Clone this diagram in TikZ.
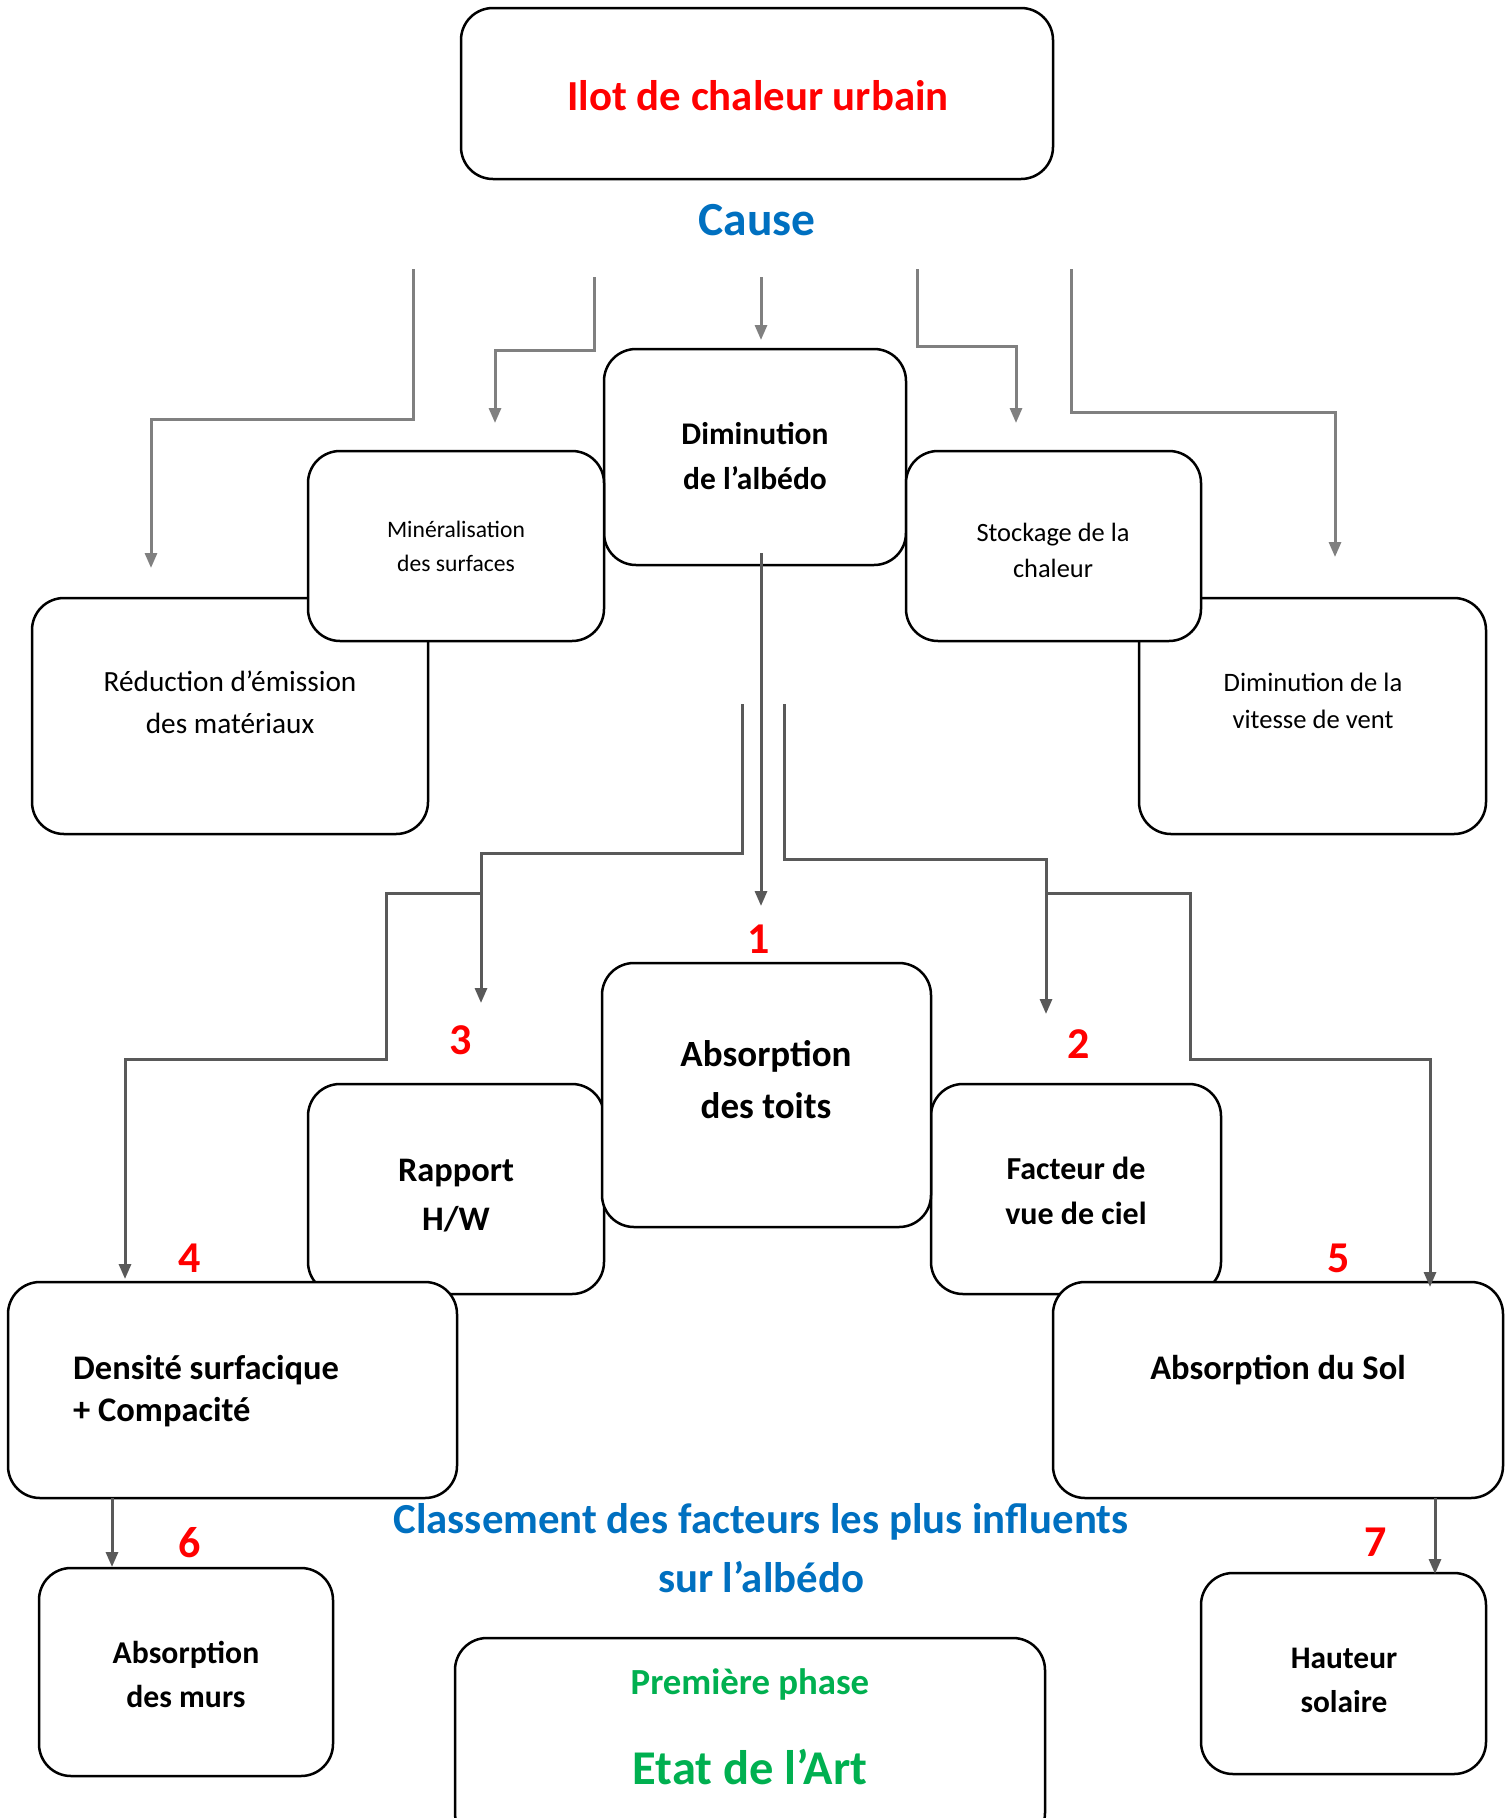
\documentclass[tikz,border=0pt]{standalone}
\usepackage{fontspec}
\setmainfont{Carlito}
\usetikzlibrary{arrows.meta}
\definecolor{cred}{HTML}{FF0000}
\definecolor{cblue}{HTML}{0070C0}
\definecolor{cgreen}{HTML}{00B050}
\definecolor{garrow}{HTML}{808080}
\definecolor{darrow}{HTML}{595959}
\newcommand\fsz[2]{\fontsize{#1pt}{#2pt}\selectfont}
\tikzset{
  box/.style={draw=black, line width=2.5pt, rounded corners=32pt, fill=white, inner sep=0pt, outer sep=0pt},
  lbl/.style={inner sep=0pt, align=center, text=black},
  num/.style={inner sep=0pt, text=cred, font=\bfseries\fsz{44}{50}},
  arr/.style={-{Triangle[length=15pt,width=12pt]}, line width=3pt, draw=garrow},
  darr/.style={-{Triangle[length=15pt,width=12pt]}, line width=3pt, draw=darrow},
}
\begin{document}
\begin{tikzpicture}[x=1pt,y=-1pt]
\clip (0,0) rectangle (1505,1818);
\fill[white] (0,0) rectangle (1505,1818);

% boxes
\node[box, minimum width=592, minimum height=171] (top) at (757,93.5) {};
\node[box, minimum width=302, minimum height=216] (dim) at (755,457) {};
\node[box, minimum width=396, minimum height=236] (red) at (230,716) {};
\node[box, minimum width=296, minimum height=190] (min) at (456,546) {};
\node[box, minimum width=347, minimum height=236] (vit) at (1312.5,716) {};
\node[box, minimum width=295, minimum height=190] (sto) at (1053.5,546) {};
\node[box, minimum width=296, minimum height=210] (rap) at (456,1189) {};
\node[box, minimum width=290, minimum height=210] (fac) at (1076,1189) {};
\node[box, minimum width=329, minimum height=264] (toits) at (766.5,1095) {};
\node[box, minimum width=449, minimum height=216] (den) at (232.5,1390) {};
\node[box, minimum width=450, minimum height=216] (sol) at (1278,1390) {};
\node[box, minimum width=294, minimum height=208] (murs) at (186,1672) {};
\node[box, minimum width=590, minimum height=207] (phase) at (750,1741.5) {};
\node[box, minimum width=285, minimum height=201] (hau) at (1343.5,1673.5) {};

% texts
\node[lbl, text=cred, font=\bfseries\fsz{42.8}{50}] (ttop) at (758,96) {Ilot de chaleur urbain};
\node[lbl, text=cblue, font=\bfseries\fsz{47.5}{55}] (cause) at (757,220) {Cause};
\node[lbl, font=\bfseries\fsz{31.5}{45}] (tdim) at (755,456.5) {Diminution\\de l’albédo};
\node[lbl, font=\fsz{23.6}{34}] (tmin) at (456,546) {Minéralisation\\des surfaces};
\node[lbl, font=\fsz{26.4}{36}] (tsto) at (1053,550) {Stockage de la\\chaleur};
\node[lbl, font=\fsz{29.3}{42}] (tred) at (230,702) {Réduction d’émission\\des matériaux};
\node[lbl, font=\fsz{26.6}{37}] (tvit) at (1313,701) {Diminution de la\\vitesse de vent};
\node[lbl, font=\bfseries\fsz{37}{52}] (ttoits) at (766,1080) {Absorption\\des toits};
\node[lbl, font=\bfseries\fsz{34.4}{49}] (trap) at (456,1195.5) {Rapport\\H/W};
\node[lbl, font=\bfseries\fsz{32}{45}] (tfac) at (1076,1190.5) {Facteur de\\vue de ciel};
\node[lbl, align=left, anchor=west, font=\bfseries\fsz{34.5}{42}] (tden) at (73,1391) {Densité surfacique\\+ Compacité};
\node[lbl, font=\bfseries\fsz{34.5}{42}] (tsol) at (1278,1370) {Absorption du Sol};
\node[lbl, text=cblue, font=\bfseries\fsz{42.8}{59}] (tclass) at (761,1548.5) {Classement des facteurs les plus influents\\sur l’albédo};
\node[lbl, font=\bfseries\fsz{31.7}{44}] (tmurs) at (186,1674) {Absorption\\des murs};
\node[lbl, text=cgreen, font=\bfseries\fsz{36.8}{42}] (tph1) at (750,1684) {Première phase};
\node[lbl, text=cgreen, font=\bfseries\fsz{48.5}{55}] (tph2) at (750,1767) {Etat de l’Art};
\node[lbl, font=\bfseries\fsz{31.4}{44}] (thau) at (1344,1680) {Hauteur\\solaire};

% rank numbers
\node[num] (n1) at (759,939) {1};
\node[num] (n2) at (1079,1044) {2};
\node[num] (n3) at (461,1040) {3};
\node[num] (n4) at (190,1258) {4};
\node[num] (n5) at (1339,1258) {5};
\node[num] (n6) at (190,1543) {6};
\node[num] (n7) at (1376,1542) {7};

% connector end points
\coordinate (a1s) at (413,269);  \coordinate (a1e) at (151,568);
\coordinate (a2s) at (594,277);  \coordinate (a2e) at (495,423);
\coordinate (a3s) at (761,277);  \coordinate (a3e) at (761,340);
\coordinate (a4s) at (917,269);  \coordinate (a4e) at (1016,423);
\coordinate (a5s) at (1071,269); \coordinate (a5e) at (1335,557);
\coordinate (a6s) at (761,553);  \coordinate (a6e) at (761,906);
\coordinate (a7s) at (742,704);  \coordinate (a7e) at (481,1003);
\coordinate (a8s) at (784,704);  \coordinate (a8e) at (1046,1014);
\coordinate (j9) at (481,893);   \coordinate (a9e) at (125,1279);
\coordinate (j10) at (1046,893); \coordinate (a10e) at (1430,1287);
\coordinate (a11s) at (112,1498); \coordinate (a11e) at (112,1567);
\coordinate (a12s) at (1435,1498); \coordinate (a12e) at (1435,1574);

% connectors
\draw[arr] (a1s) -- ++(0,150) -| (a1e);
\draw[arr] (a2s) -- ++(0,73) -| (a2e);
\draw[arr] (a3s) -- (a3e);
\draw[arr] (a4s) -- ++(0,77) -| (a4e);
\draw[arr] (a5s) -- ++(0,143) -| (a5e);
\draw[darr] (a6s) -- (a6e);
\draw[darr] (a7s) -- ++(0,149) -| (a7e);
\draw[darr] (a8s) -- ++(0,155) -| (a8e);
\draw[darr] (j9) -- ++(-95,0) -- ++(0,166) -| (a9e);
\draw[darr] (j10) -- ++(144,0) -- ++(0,166) -| (a10e);
\draw[darr] (a11s) -- (a11e);
\draw[darr] (a12s) -- (a12e);
\end{tikzpicture}
\end{document}
